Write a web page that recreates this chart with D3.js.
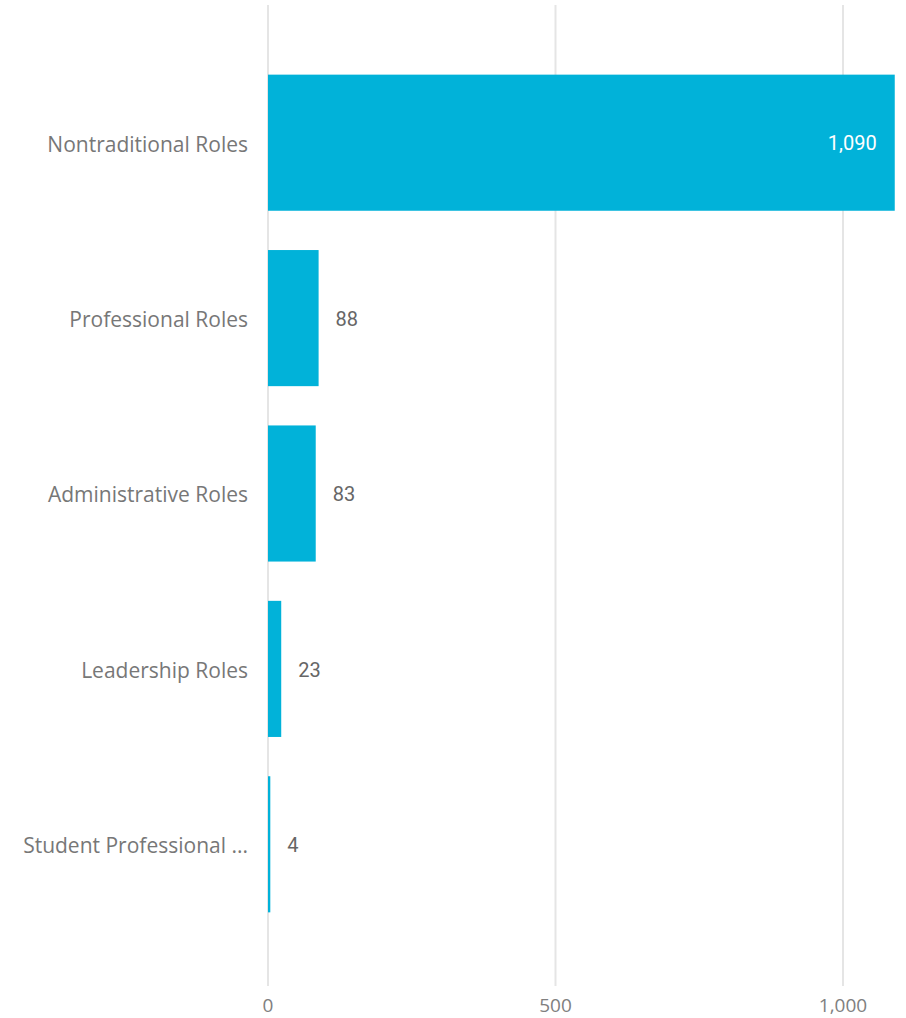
<!DOCTYPE html>
<html>
<head>
<meta charset="utf-8">
<script src="https://cdn.jsdelivr.net/npm/d3@7"></script>
<style>
  body { margin: 0; background: #fff; }
  text { font-family: "Open Sans", "Noto Sans", sans-serif; }
</style>
</head>
<body>
<div id="chart"></div>
<script>
// data
const categories = ["Nontraditional Roles", "Professional Roles", "Administrative Roles", "Leadership Roles", "Student Professional Roles"];
const counts = [1090, 88, 83, 23, 4];
const tickValues = [0, 500, 1000];

const width = 906, height = 1018;
const margin = {top: 5, right: 12, bottom: 30, left: 268};

const svg = d3.select("#chart")
  .append("svg")
    .attr("width", width)
    .attr("height", height);

// x scale: 0..1000 maps to 268..843
const x = d3.scaleLinear()
  .domain([0, 1000])
  .range([margin.left, 843]);

const y = d3.scaleBand()
  .domain(categories)
  .range([55, 932])
  .paddingInner(0.224)
  .paddingOuter(0.112);

const fmt = d3.format(",");

// gridlines
svg.append("g")
  .selectAll("line")
  .data(tickValues)
  .join("line")
    .attr("x1", d => x(d))
    .attr("x2", d => x(d))
    .attr("y1", 5)
    .attr("y2", 986)
    .attr("stroke", "#e5e5e5")
    .attr("stroke-width", 2);

// x tick labels
svg.append("g")
  .selectAll("text")
  .data(tickValues)
  .join("text")
    .attr("x", d => x(d))
    .attr("y", 1012)
    .attr("text-anchor", "middle")
    .attr("font-size", 19)
    .attr("fill", "#808080")
    .text(d => fmt(d));

// bars
svg.append("g")
  .selectAll("rect")
  .data(categories)
  .join("rect")
    .attr("x", x(0))
    .attr("y", d => y(d))
    .attr("width", (d, i) => x(counts[i]) - x(0))
    .attr("height", y.bandwidth())
    .attr("fill", "#01b2d9");

// category labels (truncate long ones)
const catLabels = svg.append("g")
  .selectAll("text")
  .data(categories)
  .join("text")
    .attr("x", 248)
    .attr("y", d => y(d) + y.bandwidth() / 2)
    .attr("dy", "0.42em")
    .attr("text-anchor", "end")
    .attr("font-size", 21)
    .attr("fill", "#777")
    .text(d => d);

catLabels.each(function(d) {
  const t = d3.select(this);
  const maxW = 228;
  if (this.getComputedTextLength() > maxW) {
    let s = d;
    while (s.length > 0) {
      s = s.slice(0, -1);
      t.text(s.trimEnd() + " ...");
      if (this.getComputedTextLength() <= maxW) break;
    }
  }
});

// value labels
svg.append("g")
  .selectAll("text")
  .data(categories)
  .join("text")
    .attr("y", d => y(d) + y.bandwidth() / 2)
    .attr("dy", "0.38em")
    .attr("font-size", 20)
    .attr("font-weight", 400)
    .style("font-family", "Roboto, 'Open Sans', sans-serif")
    .each(function(d, i) {
      const inside = x(counts[i]) - x(0) > 100;
      d3.select(this)
        .attr("x", inside ? x(counts[i]) - 18 : x(counts[i]) + 17)
        .attr("text-anchor", inside ? "end" : "start")
        .attr("fill", inside ? "#fff" : "#666")
        .text(fmt(counts[i]));
    });
</script>
</body>
</html>
